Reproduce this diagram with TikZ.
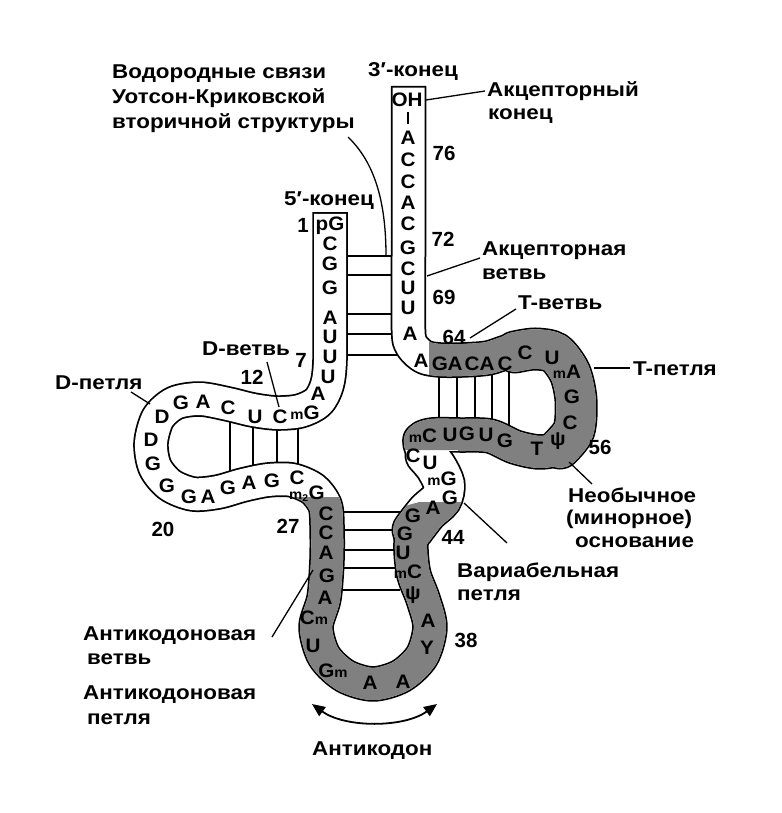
\documentclass[tikz,border=0pt]{standalone}
\usepackage{fontspec}
\usetikzlibrary{arrows.meta}
\newfontfamily\labfont{Liberation Sans Bold}[FakeStretch=1.12]
\newfontfamily\numfont{Liberation Sans Bold}
\newfontfamily\ntfont{Liberation Sans Bold}[FakeStretch=1.06]
\newcommand\sm{\fontsize{14}{14}\selectfont}
\def\bandpath{plot[smooth, tension=0.5] coordinates {
(330,229.75) (330,300) (330,360) (327,385) (318,402) (300,411) (277,413) (253,410) (228,404) (200,399) (175,403) (158,418) (151,443) (155,467) (170,485) (193,494) (218,492) (243,485) (268,480) (292,480) (313,489) (325,505) (327,525) (327,560) (324,598) (316,627) (324,656) (345,676) (373,684) (401,676) (422,656) (430,627) (423,599) (414,575) (411,550) (413,525) (425,512) (441,498) (446,484) (438,466) (424,452) (420,440) (432,435) (460,435) (490,436) (515,447) (540,452) (562,447) (576,430) (578,400) (572,372) (556,352) (533,346) (510,351) (488,358) (462,360) (440,360) (424,357) (412,346) (408.5,330) (408.5,250) (408.5,103.75)
}}
\def\varpath{plot[smooth, tension=0.5] coordinates {(413,530) (427,512) (441,499) (444,484) (436,467) (426,455)}}
\def\tloop{plot[smooth, tension=0.5] coordinates {(560,448) (574,430) (576,400) (570,373) (555,353) (535,349) (515,352)}}
\begin{document}
\begin{tikzpicture}[x=1pt,y=-1pt,
  nt/.style={font=\ntfont\fontsize{19.5}{20}\selectfont, inner sep=0pt, text height=14pt, text depth=0pt},
  lab/.style={font=\labfont\fontsize{20}{24}\selectfont, inner sep=0pt, anchor=west, text height=14pt, text depth=0pt},
  num/.style={font=\numfont\fontsize{20.5}{24}\selectfont, inner sep=0pt, text height=15pt, text depth=0pt},
  hbond/.style={line width=1.6pt},
  leader/.style={line width=1.3pt},
  bandout/.style={line width=35.5pt, line cap=rect, line join=round},
  bandin/.style={line width=32pt, line cap=rect, line join=round},
  wideout/.style={line width=43pt, line cap=round},
  widein/.style={line width=39.5pt, line cap=round},
  shade/.style={black!50}]
\useasboundingbox (0,0) rectangle (781,813);
\fill[white] (0,0) rectangle (781,813);
% hydrogen bonds (drawn under the band)
\foreach \y in {256,275,314,334,355} {\draw[hbond] (340,\y) -- (398,\y);}
\foreach \x in {230,253,277,298} {\draw[hbond] (\x,420) -- (\x,476);}
\foreach \y in {512,530,550,568,590} {\draw[hbond] (335,\y) -- (400,\y);}
\foreach \x in {439,457,475,492,509} {\draw[hbond] (\x,365) -- (\x,430);}
% band
\draw[bandout, black] \bandpath;
\draw[wideout, black] \varpath;
\draw[wideout, black] \tloop;
\draw[bandin, white] \bandpath;
\draw[widein, white] \varpath;
\draw[widein, white] \tloop;
\begin{scope}
\clip (280,497) -- (352,497) -- (398,508) -- (420,502) -- (470,502) -- (470,720) -- (280,720) -- cycle;
\draw[bandin, shade] \bandpath;
\draw[widein, shade] \varpath;
\end{scope}
\begin{scope}
\clip (429,320) -- (620,320) -- (620,490) -- (470,490) -- (458,450) -- (400,450) -- (400,400) -- (429,400) -- cycle;
\draw[bandin, shade] \bandpath;
\draw[widein, shade] \tloop;
\end{scope}
\draw[line width=1.3pt] (408,112) -- (408,124);
% nucleotides
\foreach \t/\x/\y [count=\i] in {
pG/330/223, C/330/243, G/330/263, G/330/287, A/330/317, U/330/336, U/330/356, U/328/376, A/318/393,
{{\sm m}G}/305/412, C/280/416, U/255/416, C/228/407, A/203/401, G/181/402, D/162/416, D/151/439,
G/153/463, G/167/485, G/189/496, A/208/496, G/228/487, A/249/482, G/272/480, C/297/477,
{{\sm m\textsubscript{2}}G}/307/492,
C/326/513, C/326/532, A/326/552, G/327/575, A/325/597, {C{\sm m}}/314/617, U/313/645, {G{\sm m}}/333/670,
A/370/682, A/403/681, Y/427/647, A/428/620, ψ/413/592, {{\sm m}C}/408/571, U/403/552, G/405/533, G/413/515,
A/433/507, G/450/497, {{\sm m}G}/442/478, U/430/462, C/413/455,
{{\sm m}C}/423/435, U/450/434, G/467/433, U/486/434, G/505/440, T/537/448, ψ/558/438, C/570/422, G/572/396,
{{\sm m}A}/567/371, U/552/357, C/525/352, C/505/363, A/487/363, C/472/363, A/455/363, G/440/363, A/421/360,
A/410/333, U/408/307, U/408/287, C/408/268, G/408/247, C/408/223, A/408/202, C/408/182, C/408/160, A/408/138,
OH/407/100}
{\node[nt] (b\i) at (\x,\y) {\t};}
% numbers
\foreach \t/\x/\y [count=\i] in {1/303/225, 7/301/360, 12/252/377, 20/163/529, 27/288/526, 38/466/640, 44/453/537, 56/600/447, 64/454/337, 69/444/297, 72/443/239, 76/444/153}
{\node[num] (k\i) at (\x,\y) {\t};}
% labels
\node[lab] (hb1) at (112,72) {Водородные связи};
\node[lab] (hb2) at (112,97) {Уотсон-Криковской};
\node[lab] (hb3) at (112,122) {вторичной структуры};
\node[lab] (e3) at (368,70) {3′-конец};
\node[lab] (e5) at (284,198) {5′-конец};
\node[lab] (acc1) at (487,90) {Акцепторный};
\node[lab] (acc2) at (488,113) {конец};
\node[lab] (ab1) at (482,248) {Акцепторная};
\node[lab] (ab2) at (482,272) {ветвь};
\node[lab] (tb) at (518,302) {T-ветвь};
\node[lab] (tl) at (633,368) {T-петля};
\node[lab] (un1) at (568,495) {Необычное};
\node[lab] (un2) at (566,517) {(минорное)};
\node[lab] (un3) at (575,540) {основание};
\node[lab] (var1) at (457,570) {Вариабельная};
\node[lab] (var2) at (457,593) {петля};
\node[lab] (dl) at (55,382) {D-петля};
\node[lab] (db) at (202,348) {D-ветвь};
\node[lab] (ak1) at (83,633) {Антикодоновая};
\node[lab] (ak2) at (87,657) {ветвь};
\node[lab] (ap1) at (83,692) {Антикодоновая};
\node[lab] (ap2) at (87,717) {петля};
\node[lab] (ac) at (312,748) {Антикодон};
% leader lines
\coordinate (hbS) at (348,137); \coordinate (hbE) at (386,256);
\draw[leader] (hbS) .. controls (374,162) and (386,200) .. (hbE);
\coordinate (accA) at (426,100); \coordinate (accB) at (485,91);
\draw[leader] (accA) -- (accB);
\coordinate (abA) at (427,276); \coordinate (abB) at (480,258);
\draw[leader] (abA) -- (abB);
\coordinate (tbA) at (470,338); \coordinate (tbB) at (516,309);
\draw[leader] (tbA) -- (tbB);
\coordinate (tlA) at (594,368); \coordinate (tlB) at (630,368);
\draw[leader] (tlA) -- (tlB);
\coordinate (unA) at (569,462); \coordinate (unB) at (592,484);
\draw[leader] (unA) -- (unB);
\coordinate (varA) at (464,503); \coordinate (varB) at (507,543);
\draw[leader] (varA) -- (varB);
\coordinate (dlA) at (150,404); \coordinate (dlB) at (131,392);
\draw[leader] (dlA) -- (dlB);
\coordinate (dbA) at (279,407); \coordinate (dbB) at (267,362);
\draw[leader] (dbA) -- (dbB);
\coordinate (akA) at (313,570); \coordinate (akB) at (272,637);
\draw[leader] (akA) -- (akB);
% anticodon arrow
\coordinate (aL) at (312,704); \coordinate (aR) at (437,704);
\draw[line width=1.8pt, {Triangle[length=13pt,width=11pt]}-{Triangle[length=13pt,width=11pt]}] (aL) .. controls (345,728) and (404,728) .. (aR);
\end{tikzpicture}
\end{document}
